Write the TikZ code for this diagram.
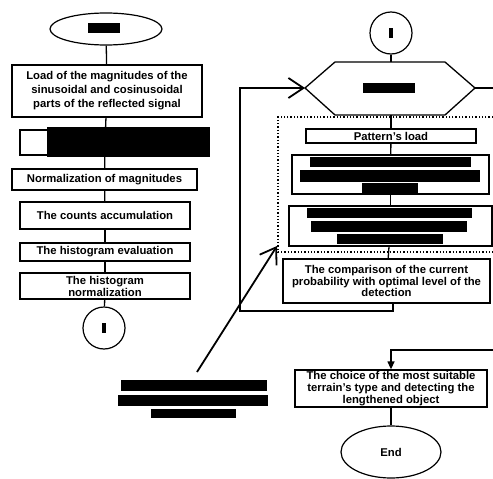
\documentclass[tikz,border=0pt]{standalone}
\usepackage{fontspec}
\setmainfont{Liberation Sans}
\usetikzlibrary{arrows.meta,shapes.geometric}
\tikzset{
  box/.style={draw, line width=1.3pt, fill=white, inner sep=0pt, align=center, font=\bfseries\fontsize{11.3}{11.8}\selectfont},
  conn/.style={line width=1.3pt},
  thick arrow/.style={line width=1.8pt},
  redact/.style={fill=black, draw=none},
  oval/.style={draw, ellipse, line width=1.2pt, inner sep=0pt, font=\bfseries\fontsize{11.3}{11.8}\selectfont},
  ring/.style={draw, circle, line width=1.2pt, inner sep=0pt, minimum size=42pt},
}
\begin{document}
\begin{tikzpicture}[x=1pt,y=-1pt]
\useasboundingbox[fill=white] (0,0) rectangle (493,479);
% left column
\node[oval, minimum width=112pt, minimum height=32pt] (start) at (106,29) {};
\fill[redact] (88,23) rectangle (120,33);
\node[box, minimum width=190pt, minimum height=52pt, font=\bfseries\fontsize{11.3}{14}\selectfont] (load) at (107,91)
  {Load of the magnitudes of the\\sinusoidal and cosinusoidal\\parts of the reflected signal};
\node[box, minimum width=170pt, minimum height=25pt] (b2) at (105,142.5) {};
\node[box, minimum width=185pt, minimum height=21pt] (norm) at (104.5,179.5) {Normalization of magnitudes};
\node[box, minimum width=170pt, minimum height=27pt] (count) at (105,215.5) {The counts accumulation};
\node[box, minimum width=170pt, minimum height=18pt] (heval) at (105,252) {The histogram evaluation};
\node[box, minimum width=170pt, minimum height=26pt, font=\bfseries\fontsize{11.3}{12}\selectfont] (hnorm) at (105,286) {The histogram\\normalization};
\node[ring] (c1) at (104,328) {};
\fill[redact] (102,323) rectangle (106,333);
\draw[conn] (start) -- (load);
\draw[conn] (load) -- (b2);
\draw[conn] (b2) -- (norm);
\draw[conn] (norm) -- (count);
\draw[conn] (count) -- (heval);
\draw[conn] (heval) -- (hnorm);
\draw[conn] (hnorm) -- (c1);
\fill[redact] (47,127) rectangle (210,157);
% right column
\node[ring] (c2) at (391,33) {};
\fill[redact] (389,28) rectangle (393,38);
\coordinate (hexL) at (305,88);
\coordinate (hexR) at (475,88);
\coordinate (hexT) at (391,62);
\coordinate (hexB) at (391,115);
\draw[line width=1.3pt, fill=white] (hexL) -- (335,62) -- (445,62) -- (hexR) -- (445,115) -- (335,115) -- cycle;
\fill[redact] (363,83) rectangle (415,93);
\coordinate (rexit) at (493,88);
\draw[conn] (hexR) -- (rexit);
\draw[conn] (c2) -- (hexT);
% dotted region
\draw[line width=1.3pt, dotted] (493,117) -- (278,117) -- (278,252) -- (493,252);
\node[box, minimum width=170pt, minimum height=14pt] (pattern) at (391,136) {Pattern's load};
\node[box, minimum width=197pt, minimum height=39pt] (b8) at (390.5,174.5) {};
\node[box, minimum width=203pt, minimum height=40pt] (b9) at (390.5,226) {};
\node[box, minimum width=207pt, minimum height=44pt, font=\bfseries\fontsize{11.3}{11.8}\selectfont] (comp) at (386.5,281)
  {The comparison of the current\\probability with optimal level of the\\detection};
\draw[conn] (hexB) -- (pattern);
\draw[conn] (pattern) -- (b8);
\draw[conn] (b8) -- (b9);
\draw[conn] (b9) -- (comp);
\fill[redact] (310,157) rectangle (471,167);
\fill[redact] (300,170) rectangle (480,182);
\fill[redact] (362,183) rectangle (418,193);
\fill[redact] (307,208) rectangle (472,218);
\fill[redact] (311,221) rectangle (467,232);
\fill[redact] (337,234) rectangle (443,244);
% loop back
\coordinate (compout) at (393,303);
\draw[thick arrow, -{Straight Barb[length=15pt,width=20pt,line width=1.8pt]}] (compout) -- (393,311) -- (240,311) -- (240,88) -- (hexL);
% diagonal arrow
\coordinate (diagS) at (197,372);
\coordinate (diagE) at (277,246);
\draw[thick arrow, -{Straight Barb[length=15pt,width=20pt,line width=1.8pt]}] (diagS) -- (diagE);
\fill[redact] (121,380) rectangle (267,391);
\fill[redact] (118,395) rectangle (268,406);
\fill[redact] (151,409) rectangle (236,418);
% bottom part
\node[box, minimum width=192pt, minimum height=37pt, font=\bfseries\fontsize{11.3}{11.7}\selectfont] (choice) at (391,388.5)
  {The choice of the most suitable\\terrain's type and detecting the\\lengthened object};
\node[oval, minimum width=100pt, minimum height=52pt] (end) at (391,452) {End};
\coordinate (rin) at (493,350);
\draw[conn, -{Triangle[length=8pt,width=7pt]}] (rin) -- (391,350) -- (choice.north);
\draw[conn] (choice) -- (end);
\end{tikzpicture}
\end{document}
